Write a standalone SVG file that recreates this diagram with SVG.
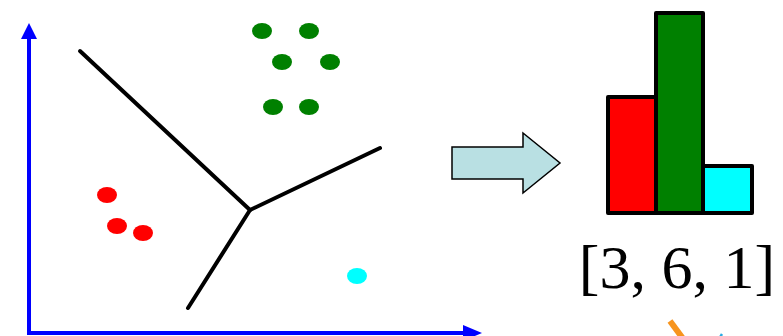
<svg xmlns="http://www.w3.org/2000/svg" width="783" height="336" viewBox="0 0 783 336">
<style>
.axis{stroke:#0000ff;stroke-width:4;fill:none}
.ahead{fill:#0000ff}
.edge{stroke:#000;stroke-width:4;stroke-linecap:round;fill:none}
.g{fill:#008000}
.r{fill:#ff0000}
.c{fill:#00ffff}
.bar{stroke:#000;stroke-width:4;stroke-linejoin:round}
.lbl{font-family:"Liberation Serif","Times New Roman",serif;font-size:62px;fill:#000}
</style>
<rect width="783" height="336" fill="#fff"/>
<g id="axes">
<line class="axis" x1="29" y1="334" x2="29" y2="36"/>
<polygon class="ahead" points="21,39 29,23 37,39"/>
<line class="axis" x1="27" y1="333" x2="466" y2="333"/>
<polygon class="ahead" points="463,325 482,333 463,341"/>
</g>
<g id="connectors">
<line class="edge" x1="80" y1="51" x2="250" y2="210"/>
<line class="edge" x1="250" y1="210" x2="380" y2="148"/>
<line class="edge" x1="250" y1="210" x2="188" y2="308"/>
</g>
<g id="green-cluster">
<ellipse class="g" cx="262" cy="31" rx="10" ry="8"/>
<ellipse class="g" cx="309" cy="31" rx="10" ry="8"/>
<ellipse class="g" cx="282" cy="62" rx="10" ry="8"/>
<ellipse class="g" cx="330" cy="62" rx="10" ry="8"/>
<ellipse class="g" cx="273" cy="107" rx="10" ry="8"/>
<ellipse class="g" cx="309" cy="107" rx="10" ry="8"/>
</g>
<g id="red-cluster">
<ellipse class="r" cx="107" cy="195" rx="10" ry="8"/>
<ellipse class="r" cx="117" cy="226" rx="10" ry="8"/>
<ellipse class="r" cx="143" cy="233" rx="10" ry="8"/>
</g>
<g id="cyan-cluster">
<ellipse class="c" cx="357" cy="276" rx="10" ry="8"/>
</g>
<g id="arrow">
<polygon points="452,147 523,147 523,133 560,163 523,193 523,179 452,179" fill="#b9e0e3" stroke="#000" stroke-width="1.5" stroke-linejoin="miter"/>
</g>
<g id="histogram">
<rect class="bar r" x="608" y="97" width="48" height="116"/>
<rect class="bar g" x="656" y="13" width="47" height="200"/>
<rect class="bar c" x="703" y="166" width="49" height="47"/>
<text class="lbl" x="677" y="288" text-anchor="middle">[3, 6, 1]</text>
</g>
<g id="partial">
<line x1="670" y1="321" x2="684" y2="340" stroke="#f7941d" stroke-width="6"/>
<line x1="722" y1="334" x2="719" y2="339" stroke="#29abe2" stroke-width="2.5"/>
</g>
</svg>
